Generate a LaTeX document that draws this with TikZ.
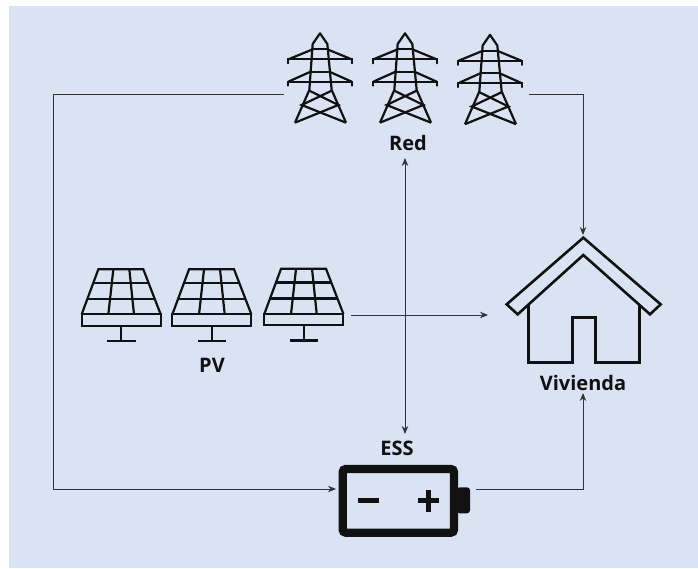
\documentclass[tikz,border=0pt]{standalone}
\usepackage{fontspec}
\setmainfont{Open Sans}
\usetikzlibrary{arrows.meta}
\definecolor{bgblue}{HTML}{DAE3F3}
\definecolor{ink}{HTML}{111111}
\definecolor{wire}{HTML}{333333}
\tikzset{
  x=1pt,y=-1pt,
  iconbox/.style={inner sep=0pt,outer sep=0pt,minimum height=1pt},
  lbl/.style={font=\fontsize{20}{22}\selectfont\bfseries,text=ink,inner sep=0pt},
  wired/.style={draw=wire,line width=0.9pt,-{Stealth[length=8pt,width=6.5pt]}},
  icon/.style={draw=ink,line width=2.2pt,line join=miter},
  tower/.pic={
    \begin{scope}[scale=1/3]
      \draw[icon,line join=round] (75,308) -- (118,210) -- (128,72) -- (150,40) -- (172,72) -- (185,210) -- (228,308);
      \draw[icon] (128,88) -- (172,88) (122,155) -- (178,155);
      \draw[icon,line cap=round] (55,130) -- (55,118) -- (245,118) -- (245,130);
      \draw[icon] (55,118) -- (128,88) (245,118) -- (172,88);
      \draw[icon,line cap=round] (55,197) -- (55,185) -- (245,185) -- (245,197);
      \draw[icon] (55,185) -- (122,155) (245,185) -- (178,155);
      \draw[icon] (118,212) -- (205,255) -- (75,308);
      \draw[icon] (185,212) -- (95,255) -- (228,308);
    \end{scope}
  },
  panel/.pic={
    \begin{scope}[scale=1/3]
      \draw[icon] (35,178) -- (85,43) -- (220,43) -- (272,178);
      \draw[icon] (35,178) rectangle (272,212);
      \draw[icon] (69,84) -- (237,84) (52,132) -- (255,132);
      \draw[icon] (130,43) -- (115,178) (178,43) -- (192,178);
      \draw[icon] (153,212) -- (153,258) (112,258) -- (197,258);
    \end{scope}
  },
}
\begin{document}
\begin{tikzpicture}
\useasboundingbox (0,0) rectangle (698,568);
\fill[white] (0,0) rectangle (698,568);
\fill[bgblue] (9,6) rectangle (698,568);

% towers
\pic at (270,20) {tower};
\pic at (355,20) {tower};
\pic at (440,21.5) {tower};
% panels
\pic at (70,255) {panel};
\pic at (160.7,255) {panel};
\pic at (252.7,254.5) {panel};

% house
\begin{scope}[shift={(495,225)},scale=1/3]
  \draw[icon,line width=2.6pt] (265,38) -- (35,238) -- (68,268) -- (265,90) -- (465,268) -- (497,238) -- cycle;
  \draw[icon,line width=2.6pt] (100,240) -- (100,412) -- (232,412) -- (232,278) -- (302,278) -- (302,412) -- (433,412) -- (433,240);
\end{scope}

% battery
\begin{scope}[shift={(320,430)},scale=1/3]
  \draw[ink,line width=8.2pt,rounded corners=3pt] (68,117) rectangle (402,308);
  \fill[ink,rounded corners=3pt] (410,172) -- (450,172) -- (450,250) -- (410,250) -- cycle;
  \fill[ink] (113,205) rectangle (177,220);
  \fill[ink] (293,205) rectangle (357,220);
  \fill[ink] (317,180) rectangle (333,245);
\end{scope}

% anchor nodes for the icons
\node[iconbox,minimum width=72pt] (towerL) at (320,94) {};
\node[iconbox,minimum width=78pt] (towerR) at (490,94) {};
\node[iconbox,minimum width=90pt] (panelR) at (306,315) {};
\node[iconbox,minimum width=140pt] (ess) at (406,489) {};

% labels
\node[lbl] (red) at (408,143) {Red};
\node[lbl] (pv) at (212,365) {PV};
\node[lbl] (viv) at (583,383) {Vivienda};
\node[lbl] (esslbl) at (397,448) {ESS};

% connectors
\coordinate (leftA) at (53,94);
\coordinate (leftB) at (53,489);
\coordinate (rightA) at (583,94);
\coordinate (rightB) at (583,489);
\coordinate (redEnd) at (405,158);
\coordinate (essEnd) at (405,434);
\coordinate (pvEnd) at (488,315);
\coordinate (homeIn) at (583,235);
\coordinate (homeUp) at (583,393);
\draw[wired] (towerL.west) -- (leftA) -- (leftB) -- (ess.west);
\draw[wired] (towerR.east) -- (rightA) -- (homeIn);
\draw[wired] (panelR.east) -- (pvEnd);
\draw[wired,{Stealth[length=8pt,width=6.5pt]}-{Stealth[length=8pt,width=6.5pt]}] (redEnd) -- (essEnd);
\draw[wired] (ess.east) -- (rightB) -- (homeUp);
\end{tikzpicture}
\end{document}
